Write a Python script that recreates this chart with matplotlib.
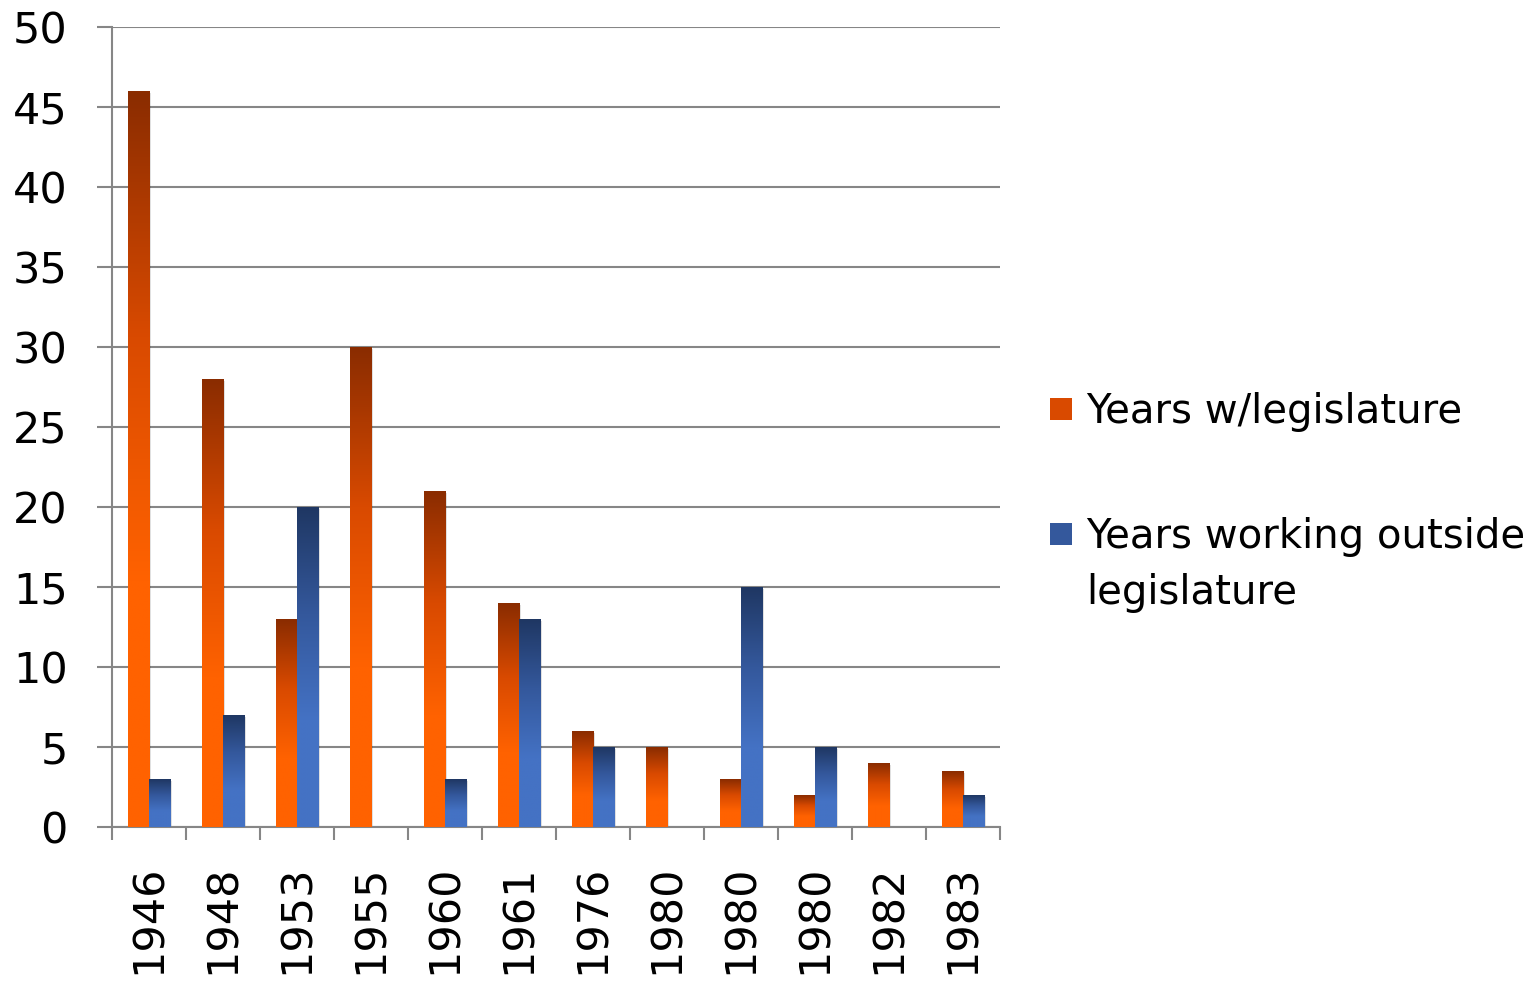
import numpy as np
import matplotlib.pyplot as plt
from matplotlib.colors import LinearSegmentedColormap
from matplotlib.patches import Rectangle

years = ['1946', '1948', '1953', '1955', '1960', '1961',
         '1976', '1980', '1980', '1980', '1982', '1983']
with_legislature = [46, 28, 13, 30, 21, 14, 6, 5, 3, 2, 4, 3.5]
outside_legislature = [3, 7, 20, 0, 3, 13, 5, 0, 15, 5, 0, 2]
series_names = [['Years w/legislature'], ['Years working outside', 'legislature']]

plt.rcParams['font.family'] = ['DejaVu Sans']

orange_cm = LinearSegmentedColormap.from_list('org', ['#ff6200', '#ff6200', '#d94a00', '#8a2c00'])
blue_cm = LinearSegmentedColormap.from_list('blu', ['#4472c4', '#4472c4', '#34589c', '#1f3763'])

fig = plt.figure(figsize=(15.35, 9.82), dpi=100)
ax = fig.add_axes([0.073, 0.158, 0.5785, 0.8145])

x = np.arange(len(years))
w = 0.285
grad = np.linspace(0, 1, 256).reshape(-1, 1)


def gradient_bars(xs, vals, cmap):
    for xi, v in zip(xs, vals):
        if v <= 0:
            continue
        # soft shadow behind each bar
        ax.bar(xi + 0.02, v, w, bottom=-0.15, color='#000000', alpha=0.12, zorder=2, linewidth=0)
        ax.imshow(grad, cmap=cmap, origin='lower', aspect='auto',
                  extent=[xi - w / 2, xi + w / 2, 0, v], zorder=3)


gradient_bars(x - w / 2, with_legislature, orange_cm)
gradient_bars(x + w / 2, outside_legislature, blue_cm)

ax.set_xlim(-0.5, len(years) - 0.5)
ax.set_ylim(0, 50)
ax.set_yticks(range(0, 51, 5))
ax.yaxis.grid(True, color='#868686', linewidth=1.5, zorder=0)
ax.set_axisbelow(True)

ax.set_xticks(x)
ax.set_xticklabels(years, rotation=90, fontsize=31)
ax.set_xticks(np.arange(-0.5, len(years), 1), minor=True)
ax.tick_params(axis='x', which='major', length=0, pad=27)
ax.tick_params(axis='x', which='minor', length=9.5, width=1.5, color='#868686')
ax.tick_params(axis='y', length=11, width=1.5, color='#868686', labelsize=31, pad=21)

for s in ['top', 'right']:
    ax.spines[s].set_visible(False)
for s in ['left', 'bottom']:
    ax.spines[s].set_color('#868686')
    ax.spines[s].set_linewidth(1.5)

# legend drawn by hand so the swatch sits on the first text line
W, H = 1535, 982
for (y_px, colour, lines) in [(409, '#d94a00', series_names[0]),
                              (534, '#34589c', series_names[1])]:
    fig.patches.append(Rectangle((1050 / W, 1 - (y_px + 11) / H), 22 / W, 22 / H,
                                 transform=fig.transFigure, facecolor=colour,
                                 edgecolor='none'))
    for i, line in enumerate(lines):
        fig.text(1086 / W, 1 - (y_px + 14 + 56 * i) / H, line, fontsize=29,
                 va='baseline', ha='left')

fig.savefig('out.png', dpi=100)
